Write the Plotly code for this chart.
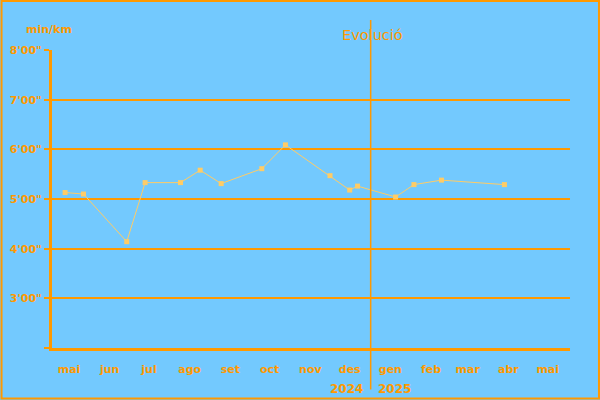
import plotly.graph_objects as go

# --- data ---
run_dates = ["2024-05-12", "2024-05-26", "2024-06-28", "2024-07-12", "2024-08-08",
             "2024-08-23", "2024-09-08", "2024-10-09", "2024-10-27", "2024-11-30",
             "2024-12-15", "2024-12-21", "2025-01-19", "2025-02-02", "2025-02-23",
             "2025-04-12"]
pace_min = [5.13, 5.10, 4.14, 5.33, 5.33, 5.58, 5.31, 5.61, 6.09, 5.47,
            5.18, 5.26, 5.04, 5.29, 5.38, 5.29]

month_ticks = ["2024-05-15", "2024-06-15", "2024-07-15", "2024-08-15", "2024-09-15",
               "2024-10-15", "2024-11-15", "2024-12-15", "2025-01-15", "2025-02-15",
               "2025-03-15", "2025-04-15", "2025-05-15"]
month_labels = ["mai", "jun", "jul", "ago", "set", "oct", "nov", "des",
                "gen", "feb", "mar", "abr", "mai"]

y_tickvals = [2, 3, 4, 5, 6, 7, 8]
y_ticktext = ["", "3'00\"", "4'00\"", "5'00\"", "6'00\"", "7'00\"", "8'00\""]

year_labels = ["2024", "2025"]
year_split = "2024-12-31"
x_range = ["2024-05-02", "2025-06-01"]

ORANGE = "#FF9900"
BG = "#73C9FE"
LINE = "#FFCC66"
FONT = "DejaVu Sans"

fig = go.Figure()
fig.add_trace(go.Scatter(
    x=run_dates, y=pace_min, mode="lines+markers",
    line=dict(color=LINE, width=1),
    marker=dict(symbol="square", size=5, color=LINE),
    hoverinfo="skip", showlegend=False,
))

W, H = 600, 400
L, R, T, B = 51.5, 30, 50, 51.5
pw, ph = W - L - R, H - T - B

def px_x(p):
    return (p - L) / pw

def px_y(p):
    return (H - B - p) / ph

fig.update_layout(
    width=W, height=H,
    margin=dict(l=L, r=R, t=T, b=B, pad=0, autoexpand=False),
    paper_bgcolor=BG, plot_bgcolor=BG,
    font=dict(family=FONT, color=ORANGE, size=11),
    xaxis=dict(
        type="date", range=x_range, showgrid=False, zeroline=False,
        tickvals=month_ticks, ticktext=month_labels, ticks="",
        tickfont=dict(family=FONT, size=11, color=ORANGE, weight="bold"),
        showline=True, linecolor=ORANGE, linewidth=3,
        ticklabelstandoff=9, automargin=False,
    ),
    yaxis=dict(
        range=[2, 8], tickvals=y_tickvals, ticktext=y_ticktext,
        showgrid=True, gridcolor=ORANGE, gridwidth=2, zeroline=False,
        ticks="outside", ticklen=5, tickwidth=2, tickcolor=ORANGE,
        tickfont=dict(family=FONT, size=11, color=ORANGE, weight="bold"),
        showline=True, linecolor=ORANGE, linewidth=3,
        ticklabelstandoff=0, automargin=False,
    ),
    shapes=[
        dict(type="line", xref="x", yref="paper", x0=year_split, x1=year_split,
             y0=px_y(390), y1=px_y(20), line=dict(color=ORANGE, width=1.5)),
        dict(type="rect", xref="paper", yref="paper",
             x0=px_x(1), x1=px_x(W - 1), y0=px_y(H - 1), y1=px_y(1),
             line=dict(color=ORANGE, width=2)),
    ],
    annotations=[
        dict(text="Evolució", xref="paper", yref="paper", x=px_x(372), y=px_y(35),
             xanchor="center", yanchor="middle", showarrow=False,
             font=dict(family=FONT, size=14.5, color=ORANGE)),
        dict(text="min/km", xref="paper", yref="paper", x=px_x(48), y=px_y(29),
             xanchor="center", yanchor="middle", showarrow=False,
             font=dict(family=FONT, size=11, color=ORANGE, weight="bold")),
        dict(text=year_labels[0], xref="x", yref="paper", x=year_split, y=px_y(390),
             xanchor="right", yanchor="middle", xshift=-6, showarrow=False,
             font=dict(family=FONT, size=12, color=ORANGE, weight="bold")),
        dict(text=year_labels[1], xref="x", yref="paper", x=year_split, y=px_y(390),
             xanchor="left", yanchor="middle", xshift=5, showarrow=False,
             font=dict(family=FONT, size=12, color=ORANGE, weight="bold")),
    ],
)

fig.write_html(
    "out.html",
    config={"displayModeBar": False},
    post_script="document.body.style.margin='0';document.body.style.overflow='hidden';",
)
